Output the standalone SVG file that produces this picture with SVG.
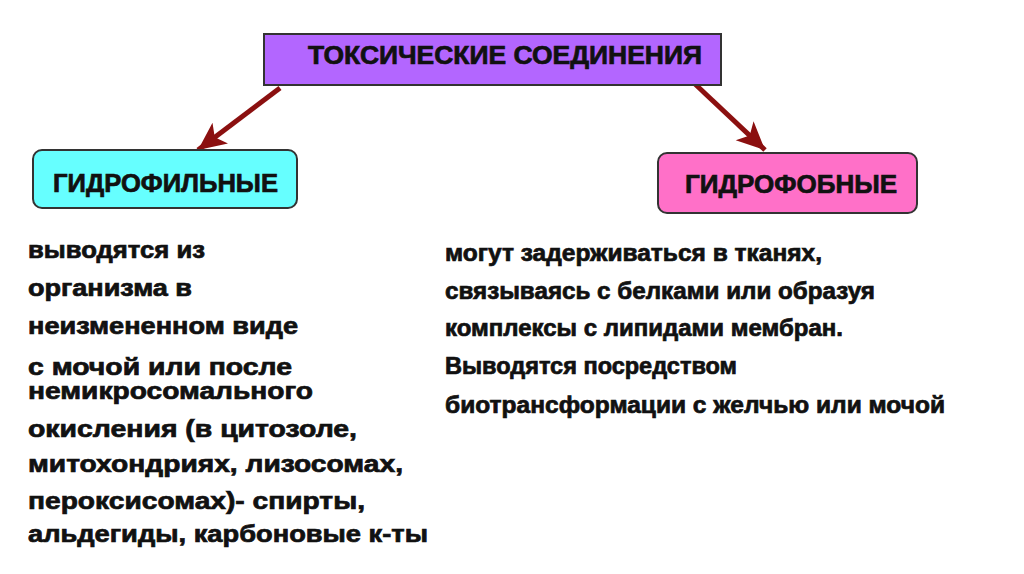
<svg xmlns="http://www.w3.org/2000/svg" width="1024" height="574" viewBox="0 0 1024 574">
<style>
.t{font-family:"Liberation Sans",Arial,sans-serif;font-weight:bold;fill:#111;stroke:#111;stroke-width:0.7;}
.hdr{font-size:25px;}
.body{font-size:23px;}
.box{stroke:#333;stroke-width:2;}
.arr{stroke:#8b1010;stroke-width:5;fill:none;}
</style>
<defs>
<marker id="ah" markerUnits="userSpaceOnUse" markerWidth="32" markerHeight="30" refX="28" refY="13" orient="auto">
<path d="M0,0 L28,13 L0,26 L7,13 Z" fill="#8b1010"/>
</marker>
</defs>
<rect width="1024" height="574" fill="#ffffff"/>
<g id="connectors">
<line class="arr" x1="280" y1="88" x2="198" y2="150" marker-end="url(#ah)"/>
<line class="arr" x1="695" y1="84" x2="765" y2="150" marker-end="url(#ah)"/>
</g>
<g id="toxic">
<rect class="box" x="264" y="34" width="457" height="51" fill="#b366ff"/>
<text class="t hdr" x="308" y="64" textLength="394" lengthAdjust="spacingAndGlyphs">ТОКСИЧЕСКИЕ СОЕДИНЕНИЯ</text>
</g>
<g id="hydrophilic">
<rect class="box" x="33" y="150" width="264" height="58" rx="9" fill="#66ffff"/>
<text class="t hdr" x="53" y="192" font-size="29" textLength="225" lengthAdjust="spacingAndGlyphs">ГИДРОФИЛЬНЫЕ</text>
</g>
<g id="hydrophobic">
<rect class="box" x="658" y="153" width="259" height="60" rx="9" fill="#ff70c8"/>
<text class="t hdr" x="685" y="193" font-size="29" textLength="212" lengthAdjust="spacingAndGlyphs">ГИДРОФОБНЫЕ</text>
</g>
<g id="left-text" class="t body">
<text x="28" y="258" textLength="177" lengthAdjust="spacingAndGlyphs">выводятся из</text>
<text x="28" y="296" textLength="164" lengthAdjust="spacingAndGlyphs">организма в</text>
<text x="28" y="334" textLength="270" lengthAdjust="spacingAndGlyphs">неизмененном виде</text>
<text x="28" y="375" textLength="264" lengthAdjust="spacingAndGlyphs">с мочой или после</text>
<text x="28" y="399" textLength="285" lengthAdjust="spacingAndGlyphs">немикросомального</text>
<text x="28" y="437" textLength="329" lengthAdjust="spacingAndGlyphs">окисления (в цитозоле,</text>
<text x="28" y="472" textLength="375" lengthAdjust="spacingAndGlyphs">митохондриях, лизосомах,</text>
<text x="28" y="509" textLength="337" lengthAdjust="spacingAndGlyphs">пероксисомах)- спирты,</text>
<text x="28" y="542" textLength="400" lengthAdjust="spacingAndGlyphs">альдегиды, карбоновые к-ты</text>
</g>
<g id="right-text" class="t body">
<text x="445" y="261" textLength="377" lengthAdjust="spacingAndGlyphs">могут задерживаться в тканях,</text>
<text x="445" y="299" textLength="430" lengthAdjust="spacingAndGlyphs">связываясь с белками или образуя</text>
<text x="445" y="336" textLength="398" lengthAdjust="spacingAndGlyphs">комплексы с липидами мембран.</text>
<text x="445" y="374" textLength="292" lengthAdjust="spacingAndGlyphs">Выводятся посредством</text>
<text x="445" y="413" textLength="500" lengthAdjust="spacingAndGlyphs">биотрансформации с желчью или мочой</text>
</g>
</svg>
